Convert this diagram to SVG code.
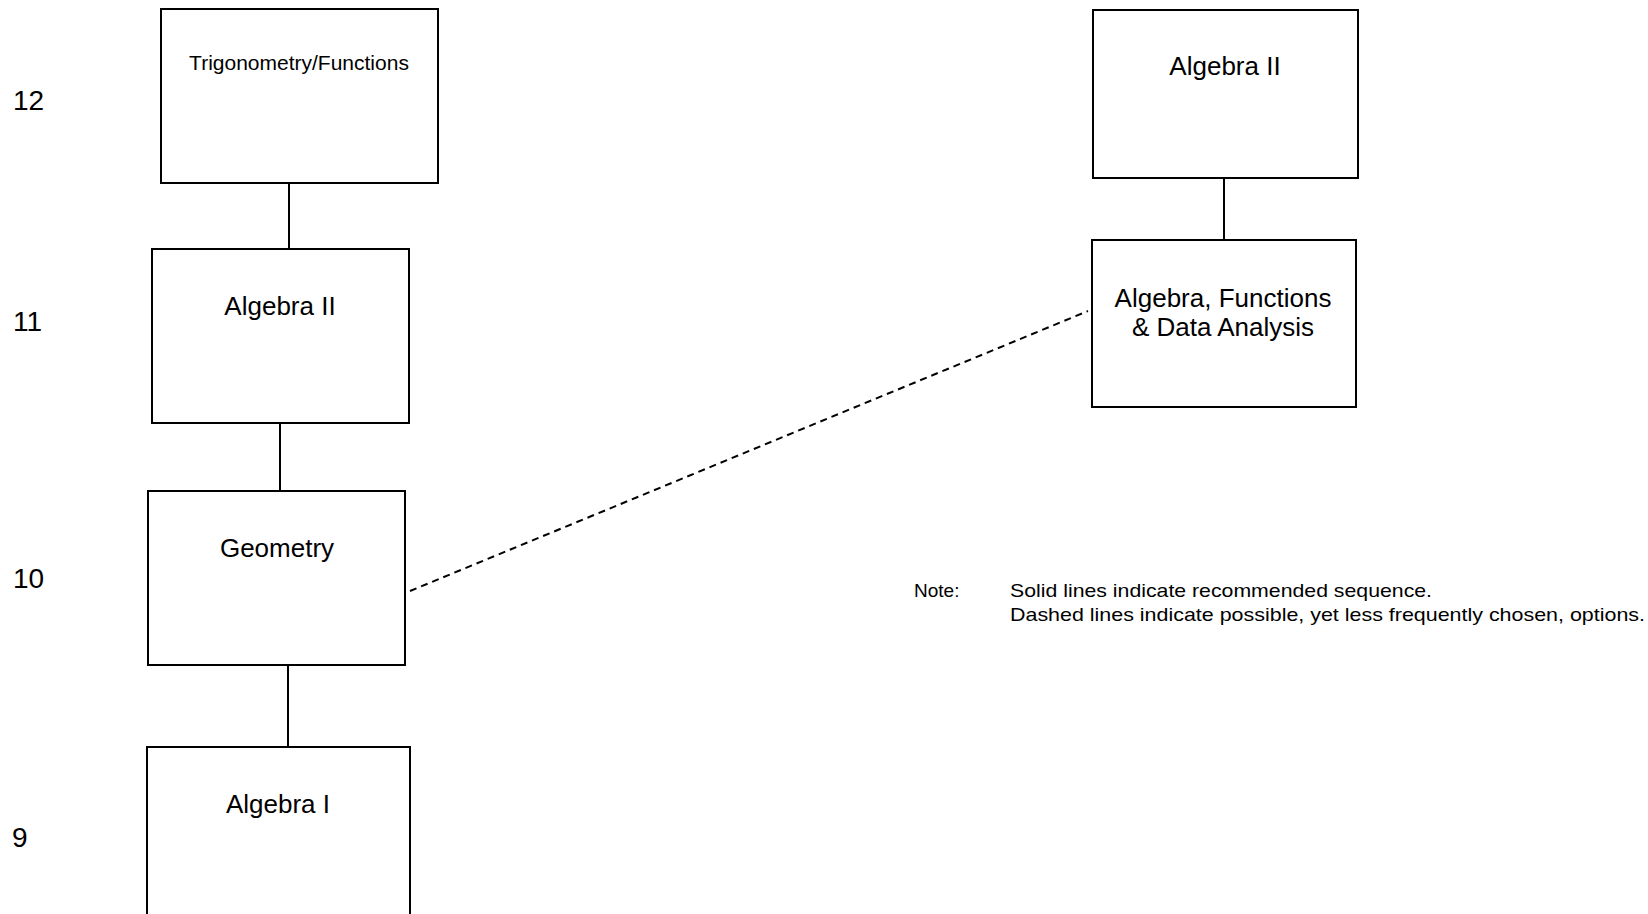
<svg xmlns="http://www.w3.org/2000/svg" width="1648" height="914" viewBox="0 0 1648 914">
<style>
.box{fill:#fff;stroke:#000;stroke-width:2}
.lbl{font-family:"Liberation Sans",Arial,sans-serif;fill:#000;text-anchor:middle}
.grade{font-family:"Liberation Sans",Arial,sans-serif;fill:#000;font-size:28px}
.note{font-family:"Liberation Sans",Arial,sans-serif;fill:#000;font-size:19px}
.solid{stroke:#000;stroke-width:2;fill:none}
.dash{stroke:#000;stroke-width:2;fill:none;stroke-dasharray:7 5}
</style>
<rect width="1648" height="914" fill="#fff"/>
<g id="grades">
<text class="grade" x="13" y="110">12</text>
<text class="grade" x="13" y="331">11</text>
<text class="grade" x="13" y="588">10</text>
<text class="grade" x="12" y="847">9</text>
</g>
<g id="connectors">
<line class="solid" x1="289" y1="183" x2="289" y2="249"/>
<line class="solid" x1="280" y1="423" x2="280" y2="491"/>
<line class="solid" x1="288" y1="665" x2="288" y2="747"/>
<line class="solid" x1="1224" y1="178" x2="1224" y2="240"/>
<line class="dash" x1="410" y1="591" x2="1088" y2="311"/>
</g>
<g id="trig">
<rect class="box" x="161" y="9" width="277" height="174"/>
<text class="lbl" x="299" y="70" font-size="21">Trigonometry/Functions</text>
</g>
<g id="alg2-left">
<rect class="box" x="152" y="249" width="257" height="174"/>
<text class="lbl" x="280" y="315" font-size="26">Algebra II</text>
</g>
<g id="geometry">
<rect class="box" x="148" y="491" width="257" height="174"/>
<text class="lbl" x="277" y="557" font-size="26">Geometry</text>
</g>
<g id="alg1">
<rect class="box" x="147" y="747" width="263" height="180"/>
<text class="lbl" x="278" y="813" font-size="26">Algebra I</text>
</g>
<g id="alg2-right">
<rect class="box" x="1093" y="10" width="265" height="168"/>
<text class="lbl" x="1225" y="75" font-size="26">Algebra II</text>
</g>
<g id="afda">
<rect class="box" x="1092" y="240" width="264" height="167"/>
<text class="lbl" x="1223" y="307" font-size="26">Algebra, Functions</text>
<text class="lbl" x="1223" y="336" font-size="26">&amp; Data Analysis</text>
</g>
<g id="note">
<text class="note" x="914" y="597">Note:</text>
<text class="note" x="1010" y="597" textLength="422" lengthAdjust="spacingAndGlyphs">Solid lines indicate recommended sequence.</text>
<text class="note" x="1010" y="621" textLength="635" lengthAdjust="spacingAndGlyphs">Dashed lines indicate possible, yet less frequently chosen, options.</text>
</g>
</svg>
